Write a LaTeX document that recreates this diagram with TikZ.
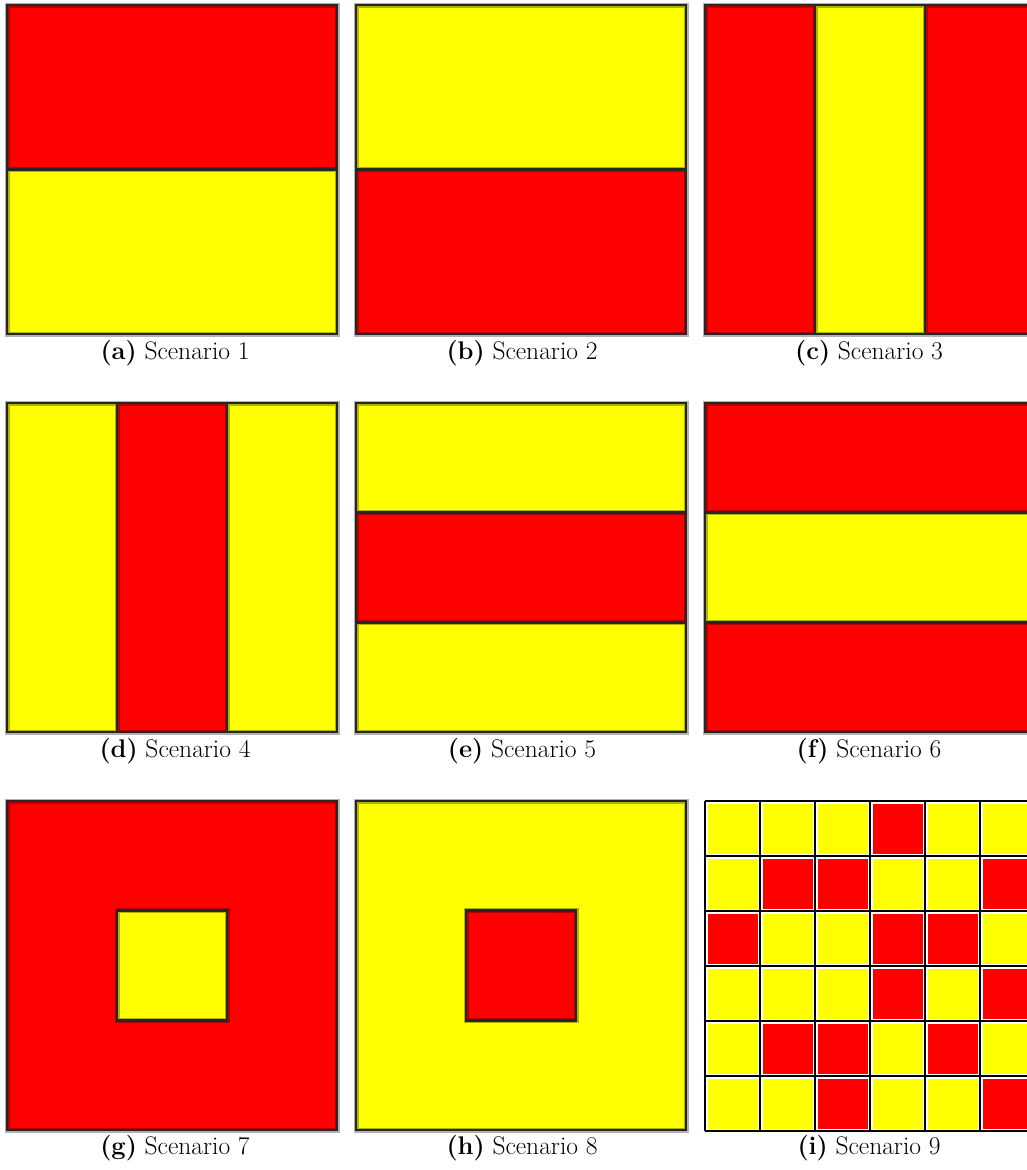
\documentclass[tikz,border=0pt]{standalone}
\definecolor{cred}{RGB}{255,0,0}
\definecolor{cyel}{RGB}{255,255,0}
\tikzset{scen/.style={x=1pt,y=-1pt},
  edge/.style={black!85,line width=2.6pt},
  halo/.style={black,opacity=0.3,line width=5pt},
  subcap/.style={font=\fontsize{25.5}{30}\selectfont}}

\begin{document}
\begin{tikzpicture}[scen]
    \useasboundingbox (0,0) rectangle (1027,1170);
    \def\w{330}\def\h{329}% panel size; thirds at 110 / 109.67
    % (a) red over yellow
    \begin{scope}[shift={(7,5)}]
      \fill[cred] (0,0) rectangle (\w,{\h/2});
      \fill[cyel] (0,{\h/2}) rectangle (\w,\h);
      \draw[halo] (0,{\h/2}) -- (\w,{\h/2}) (0,0) rectangle (\w,\h);
      \draw[edge] (0,{\h/2}) -- (\w,{\h/2}) (0,0) rectangle (\w,\h);
    \end{scope}
    % (b) yellow over red
    \begin{scope}[shift={(356,5)}]
      \fill[cyel] (0,0) rectangle (\w,{\h/2});
      \fill[cred] (0,{\h/2}) rectangle (\w,\h);
      \draw[halo] (0,{\h/2}) -- (\w,{\h/2}) (0,0) rectangle (\w,\h);
      \draw[edge] (0,{\h/2}) -- (\w,{\h/2}) (0,0) rectangle (\w,\h);
    \end{scope}
    % (c) red | yellow | red
    \begin{scope}[shift={(705,5)}]
      \fill[cred] (0,0) rectangle (\w,\h);
      \fill[cyel] ({\w/3},0) rectangle ({2*\w/3},\h);
      \draw[halo] ({\w/3},0) -- ({\w/3},\h) ({2*\w/3},0) -- ({2*\w/3},\h) (0,0) rectangle (\w,\h);
      \draw[edge] ({\w/3},0) -- ({\w/3},\h) ({2*\w/3},0) -- ({2*\w/3},\h) (0,0) rectangle (\w,\h);
    \end{scope}
    % (d) yellow | red | yellow
    \begin{scope}[shift={(7,403)}]
      \fill[cyel] (0,0) rectangle (\w,\h);
      \fill[cred] ({\w/3},0) rectangle ({2*\w/3},\h);
      \draw[halo] ({\w/3},0) -- ({\w/3},\h) ({2*\w/3},0) -- ({2*\w/3},\h) (0,0) rectangle (\w,\h);
      \draw[edge] ({\w/3},0) -- ({\w/3},\h) ({2*\w/3},0) -- ({2*\w/3},\h) (0,0) rectangle (\w,\h);
    \end{scope}
    % (e) yellow / red / yellow
    \begin{scope}[shift={(356,403)}]
      \fill[cyel] (0,0) rectangle (\w,\h);
      \fill[cred] (0,{\h/3}) rectangle (\w,{2*\h/3});
      \draw[halo] (0,{\h/3}) -- (\w,{\h/3}) (0,{2*\h/3}) -- (\w,{2*\h/3}) (0,0) rectangle (\w,\h);
      \draw[edge] (0,{\h/3}) -- (\w,{\h/3}) (0,{2*\h/3}) -- (\w,{2*\h/3}) (0,0) rectangle (\w,\h);
    \end{scope}
    % (f) red / yellow / red
    \begin{scope}[shift={(705,403)}]
      \fill[cred] (0,0) rectangle (\w,\h);
      \fill[cyel] (0,{\h/3}) rectangle (\w,{2*\h/3});
      \draw[halo] (0,{\h/3}) -- (\w,{\h/3}) (0,{2*\h/3}) -- (\w,{2*\h/3}) (0,0) rectangle (\w,\h);
      \draw[edge] (0,{\h/3}) -- (\w,{\h/3}) (0,{2*\h/3}) -- (\w,{2*\h/3}) (0,0) rectangle (\w,\h);
    \end{scope}
    % (g) red with yellow core
    \begin{scope}[shift={(7,801)}]
      \fill[cred] (0,0) rectangle (\w,\h);
      \fill[cyel] ({\w/3},{\h/3}) rectangle ({2*\w/3},{2*\h/3});
      \draw[halo] ({\w/3},{\h/3}) rectangle ({2*\w/3},{2*\h/3}) (0,0) rectangle (\w,\h);
      \draw[edge] ({\w/3},{\h/3}) rectangle ({2*\w/3},{2*\h/3}) (0,0) rectangle (\w,\h);
    \end{scope}
    % (h) yellow with red core
    \begin{scope}[shift={(356,801)}]
      \fill[cyel] (0,0) rectangle (\w,\h);
      \fill[cred] ({\w/3},{\h/3}) rectangle ({2*\w/3},{2*\h/3});
      \draw[halo] ({\w/3},{\h/3}) rectangle ({2*\w/3},{2*\h/3}) (0,0) rectangle (\w,\h);
      \draw[edge] ({\w/3},{\h/3}) rectangle ({2*\w/3},{2*\h/3}) (0,0) rectangle (\w,\h);
    \end{scope}
    % (i) 6x6 patchwork, 1 = red
    \begin{scope}[shift={(705,801)}]
      \def\s{55}
      \foreach \row [count=\j from 0] in {{0,0,0,1,0,0},{0,1,1,0,0,1},{1,0,0,1,1,0},
                                          {0,0,0,1,0,1},{0,1,1,0,1,0},{0,0,1,0,0,1}}
        \foreach \c [count=\i from 0] in \row {
          \def\cellcol{cyel}\ifnum\c=1 \def\cellcol{cred}\fi
          \fill[fill=\cellcol] (\i*\s,\j*\s) rectangle ({(\i+1)*\s},{(\j+1)*\s});
        }
      \foreach \k in {0,...,6} {
        \draw[white,line width=5pt] (\k*\s,0) -- (\k*\s,{6*\s}) (0,\k*\s) -- ({6*\s},\k*\s);
      }
      \foreach \k in {0,...,6} {
        \draw[black,line width=2.8pt] (\k*\s,0) -- (\k*\s,{6*\s}) (0,\k*\s) -- ({6*\s},\k*\s);
      }
    \end{scope}
    % captions
    \foreach \l/\n/\x/\y in {a/1/175/353,b/2/522/353,c/3/869/353,
                             d/4/175/751,e/5/522/751,f/6/869/751,
                             g/7/175/1148,h/8/522/1148,i/9/869/1148}
      \node[subcap] (cap\l) at (\x,\y) {\textbf{(\l)} Scenario \n};
\end{tikzpicture}
\end{document}
